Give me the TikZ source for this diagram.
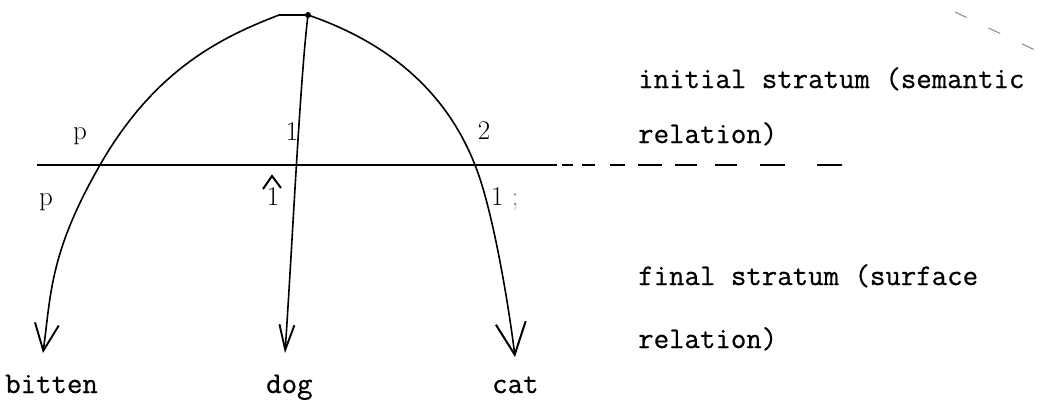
\documentclass[tikz,border=0pt]{standalone}
\usepackage{fontspec}
\setmonofont{Latin Modern Mono}[FakeBold=0.6]
\usetikzlibrary{arrows.meta}
\begin{document}
\begin{tikzpicture}[x=1pt,y=-1pt,
  curve/.style={line width=1.6pt},
  lbl/.style={font=\fontsize{27}{32}\selectfont, inner sep=0pt, anchor=base},
  tt/.style={font=\fontsize{30}{36}\selectfont\ttfamily, inner sep=0pt, anchor=base west},
]
\useasboundingbox (0,0) rectangle (1040,400);

% key points
\coordinate (top) at (308,15);
\coordinate (flat) at (279,15);
\coordinate (xl) at (100,165);
\coordinate (xr) at (475,165);
\coordinate (tb) at (43,353);
\coordinate (td) at (285,353);
\coordinate (tc) at (515,357);
\coordinate (hl) at (37,165);
\coordinate (hm) at (557,165);
\coordinate (hr) at (842,165);
\coordinate (da) at (955,12);
\coordinate (db) at (1037,51);

% stratum line
\draw[line width=1.4pt] (hl) -- (hm);
\draw[line width=1.6pt, dash pattern=on 0pt off 5pt on 11pt off 9pt on 13pt off 15pt on 15pt off 13pt on 24pt off 13pt on 22pt off 18pt on 22pt off 23pt on 25pt off 32pt on 25pt] (hm) -- (hr);
\draw[gray, line width=0.9pt, dash pattern=on 13pt off 24pt] (da) -- (db);

% arcs
\draw[curve, -{Straight Barb[length=27pt,width=24pt,line width=1.9pt]}]
  (top) -- (flat) .. controls (222,37) and (155,69) .. (xl)
  .. controls (50,252) and (51,293) .. (tb);
\draw[curve, -{Straight Barb[length=25pt,width=15pt,line width=1.9pt]}]
  (top) .. controls (300,80) and (292,250) .. (td);
\draw[curve, -{Straight Barb[length=32pt,width=30pt,line width=2pt]}]
  (top) .. controls (375,38) and (442,81) .. (xr)
  .. controls (492,207) and (508,300) .. (tc);
\fill (top) circle (3pt);

% labels on arcs
\node[lbl] (p1) at (80,139) {p};
\node[lbl] (p2) at (46,205) {p};
\node[lbl] (o1) at (292,140) {1};
\node[lbl] (t2) at (484,139) {2};
\node[lbl] (o2) at (273,205) {1};
\draw[line width=2pt] (263,189) -- (272,176) -- (281,188);
\node[lbl, anchor=base west] (o3) at (491,205) {1 {\color{gray};}};

% words
\node[tt] (bitten) at (5,393) {bitten};
\node[tt] (dog) at (266,393) {dog};
\node[tt] (cat) at (492,393) {cat};
\node[tt] (init) at (638,88) {initial stratum (semantic};
\node[tt] (rel1) at (638,143) {relation)};
\node[tt] (fin) at (638,285) {final stratum (surface};
\node[tt] (rel2) at (638,348) {relation)};
\end{tikzpicture}
\end{document}
